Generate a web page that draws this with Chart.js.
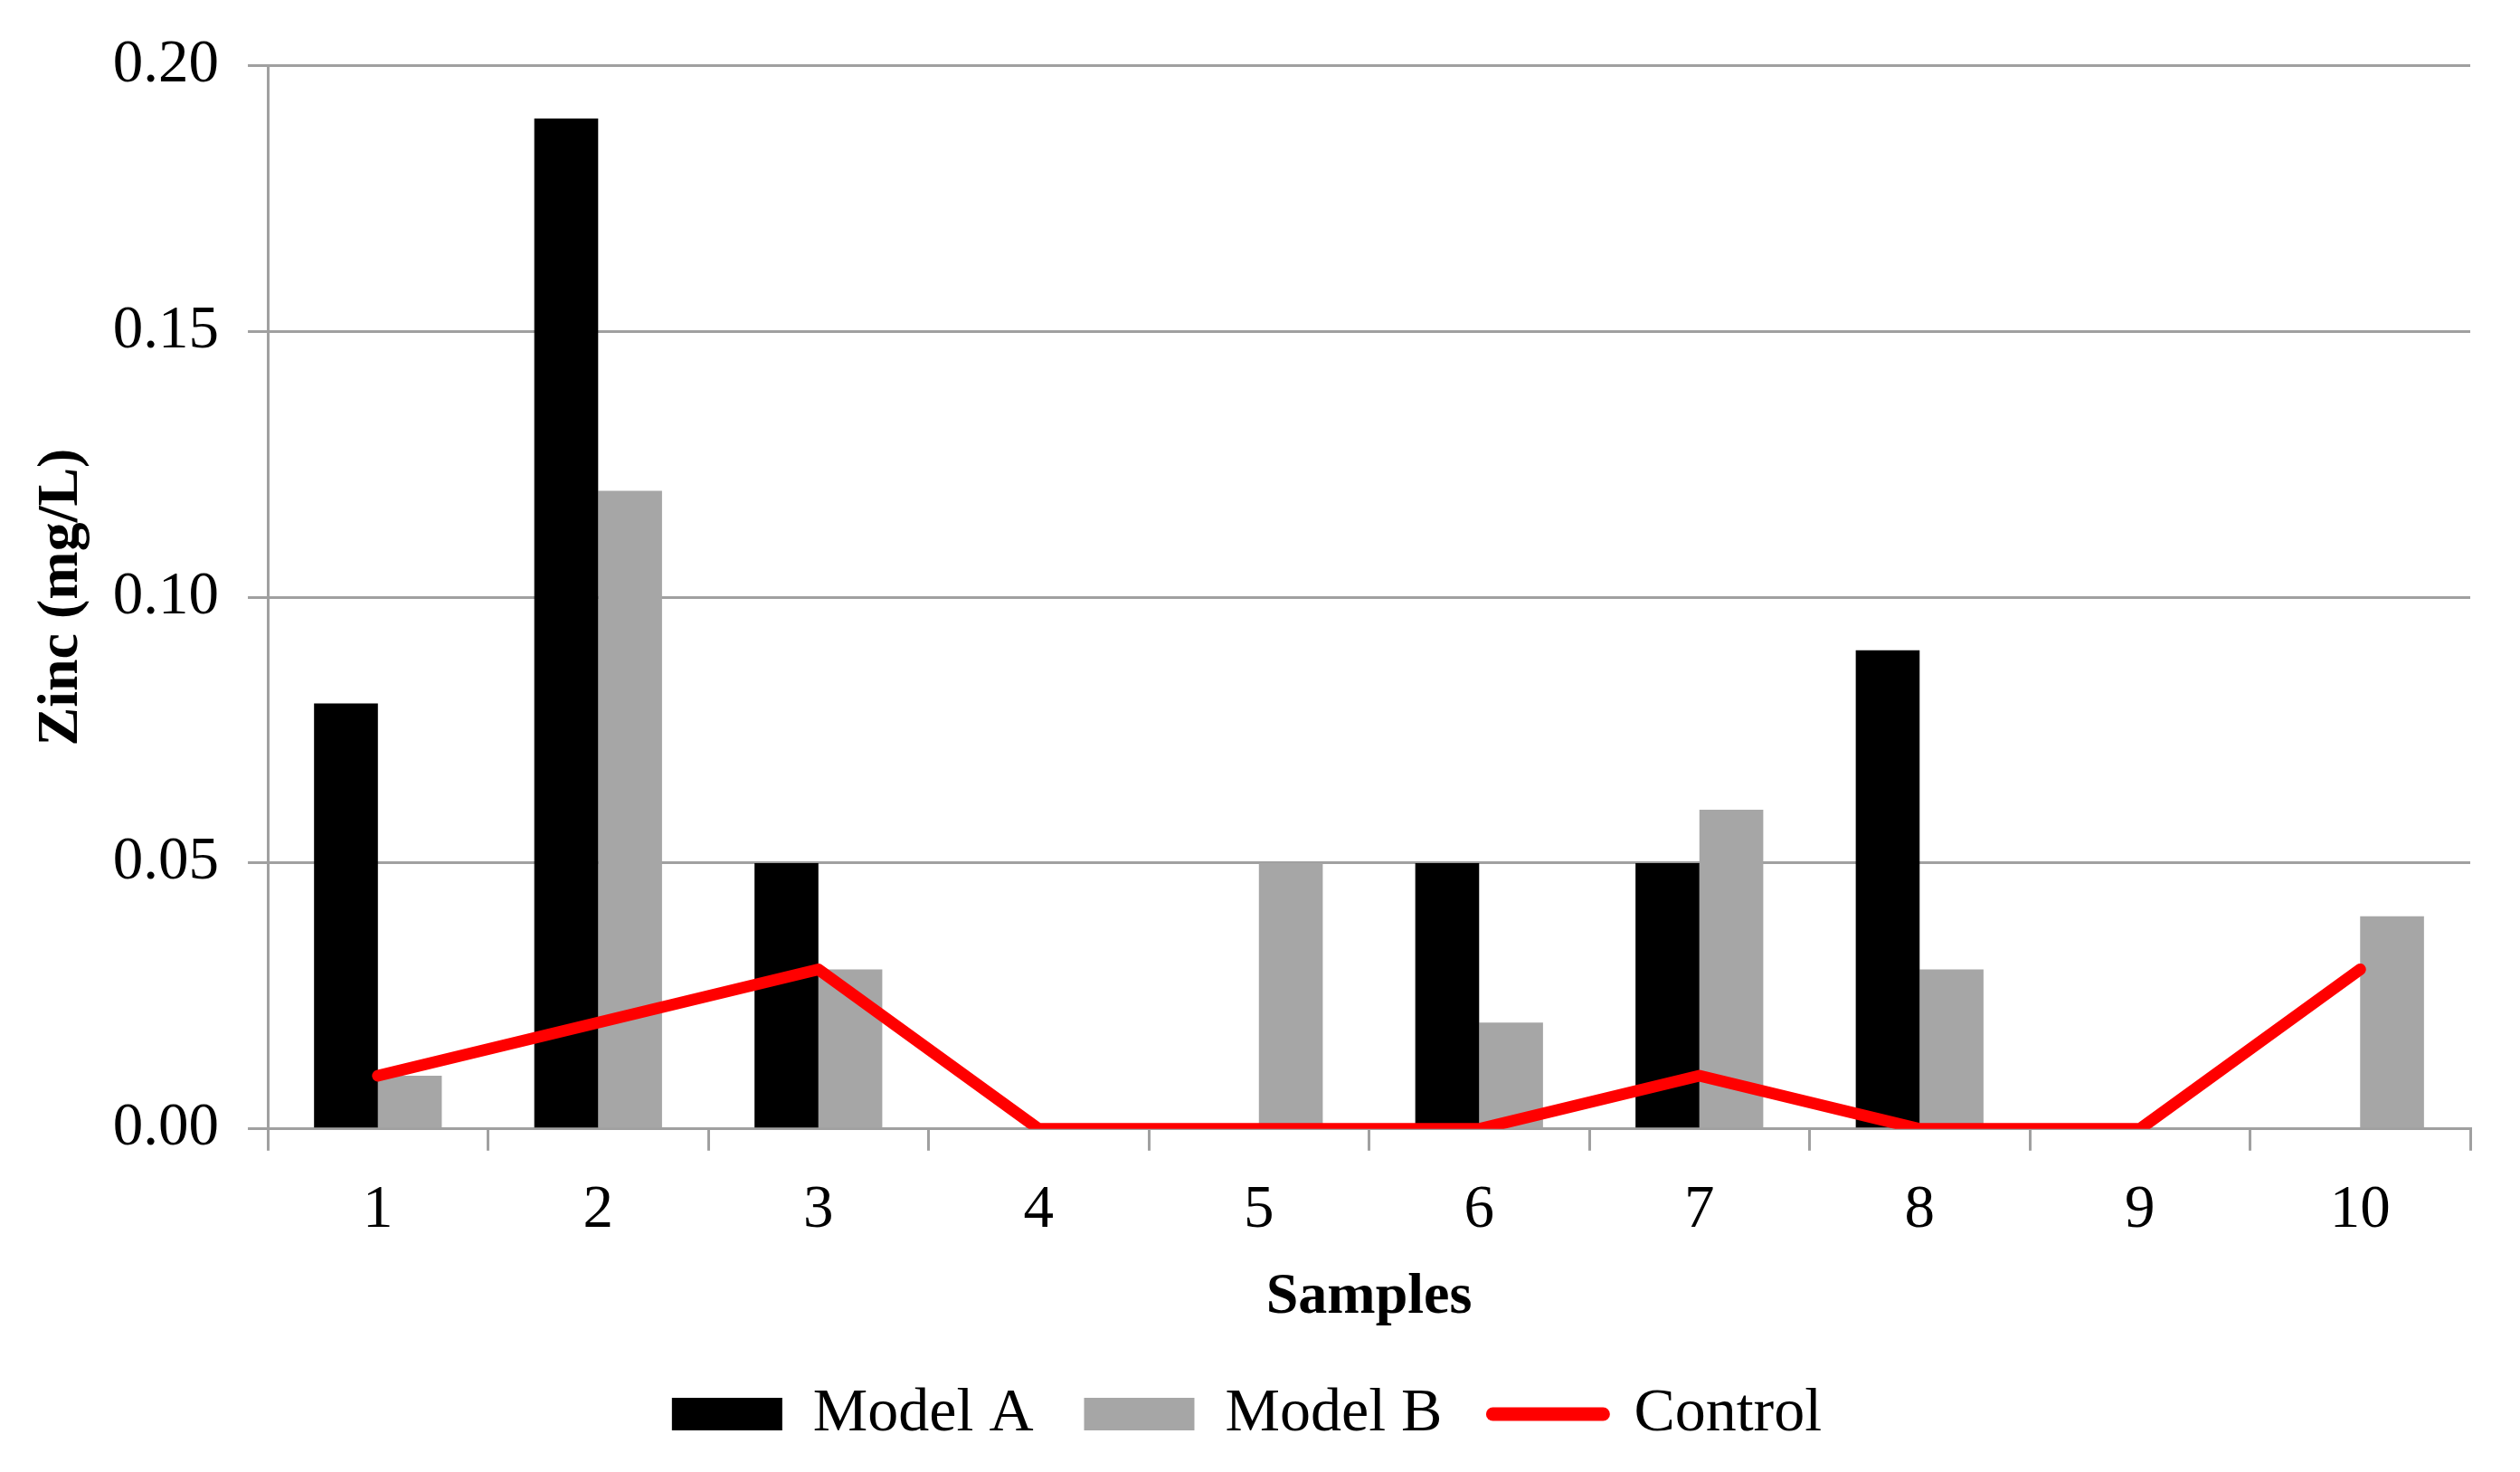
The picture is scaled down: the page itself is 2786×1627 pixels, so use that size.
<!DOCTYPE html>
<html>
<head>
<meta charset="utf-8">
<script src="https://cdn.jsdelivr.net/npm/chart.js@4.4.1/dist/chart.umd.min.js"></script>
<style>
  html, body { margin: 0; padding: 0; background: #ffffff; }
  #wrap { width: 2786px; height: 1627px; position: relative; }
</style>
</head>
<body>
<div id="wrap"><canvas id="zincChart"></canvas></div>
<script>
const samples = ["1", "2", "3", "4", "5", "6", "7", "8", "9", "10"];
const modelA = [0.08, 0.19, 0.05, 0, 0, 0.05, 0.05, 0.09, 0, 0];
const modelB = [0.01, 0.12, 0.03, 0, 0.05, 0.02, 0.06, 0.03, 0, 0.04];
const control = [0.01, 0.02, 0.03, 0, 0, 0, 0.01, 0, 0, 0.03];
const yTicks = [0, 0.05, 0.10, 0.15, 0.20];

const serif = "\"Liberation Serif\", \"Times New Roman\", serif";
const gridGray = "#a0a0a0";

Chart.defaults.font.family = serif;
Chart.defaults.color = "#000000";

new Chart(document.getElementById("zincChart"), {
  data: {
    labels: samples,
    datasets: [
      {
        type: "bar",
        label: "Model A",
        data: modelA,
        backgroundColor: "#000000",
        borderWidth: 0,
        order: 2
      },
      {
        type: "bar",
        label: "Model B",
        data: modelB,
        backgroundColor: "#a6a6a6",
        borderWidth: 0,
        order: 2
      },
      {
        type: "line",
        label: "Control",
        data: control,
        borderColor: "#ff0000",
        backgroundColor: "#ff0000",
        borderWidth: 13,
        borderCapStyle: "round",
        borderJoinStyle: "round",
        pointRadius: 0,
        tension: 0,
        fill: false,
        order: 1
      }
    ]
  },
  options: {
    responsive: true,
    maintainAspectRatio: false,
    devicePixelRatio: 1,
    animation: false,
    datasets: {
      bar: {
        categoryPercentage: 0.58,
        barPercentage: 1
      }
    },
    layout: {
      padding: { top: 20, right: 55, bottom: 20, left: 26 }
    },
    plugins: {
      tooltip: { enabled: false },
      legend: {
        position: "bottom",
        labels: {
          usePointStyle: true,
          pointStyleWidth: 122,
          boxHeight: 36,
          padding: 56,
          color: "#000000",
          font: { size: 68 },
          sort: (a, b) => a.datasetIndex - b.datasetIndex,
          generateLabels(chart) {
            return chart.data.datasets.map((ds, i) => ({
              text: ds.label,
              datasetIndex: i,
              fillStyle: ds.type === "line" ? "#ff0000" : ds.backgroundColor,
              strokeStyle: ds.type === "line" ? "#ff0000" : ds.backgroundColor,
              lineWidth: ds.type === "line" ? 15 : 0,
              lineCap: "round",
              pointStyle: ds.type === "line" ? "line" : "rect",
              fontColor: "#000000",
              hidden: false
            }));
          }
        }
      }
    },
    scales: {
      x: {
        grid: {
          offset: true,
          drawOnChartArea: false,
          drawTicks: true,
          tickLength: 24,
          color: gridGray,
          lineWidth: 3
        },
        border: { display: true, color: gridGray, width: 3 },
        ticks: {
          padding: 26,
          color: "#000000",
          font: { size: 67 },
          maxRotation: 0
        },
        title: {
          display: true,
          text: "Samples",
          color: "#000000",
          font: { size: 64, weight: "bold" },
          padding: { top: -8, bottom: 0 }
        }
      },
      y: {
        min: 0,
        max: 0.2,
        afterBuildTicks(axis) {
          axis.ticks = yTicks.map((v) => ({ value: v }));
        },
        grid: {
          drawTicks: true,
          tickLength: 22,
          color: gridGray,
          lineWidth: 3
        },
        border: { display: true, color: gridGray, width: 3 },
        ticks: {
          padding: 32,
          color: "#000000",
          font: { size: 67 },
          callback(value) {
            return Number(value).toFixed(2);
          }
        },
        title: {
          display: true,
          text: "Zinc (mg/L)",
          color: "#000000",
          font: { size: 64, weight: "bold" },
          padding: { top: 4, bottom: -14 }
        }
      }
    }
  }
});
</script>
</body>
</html>
